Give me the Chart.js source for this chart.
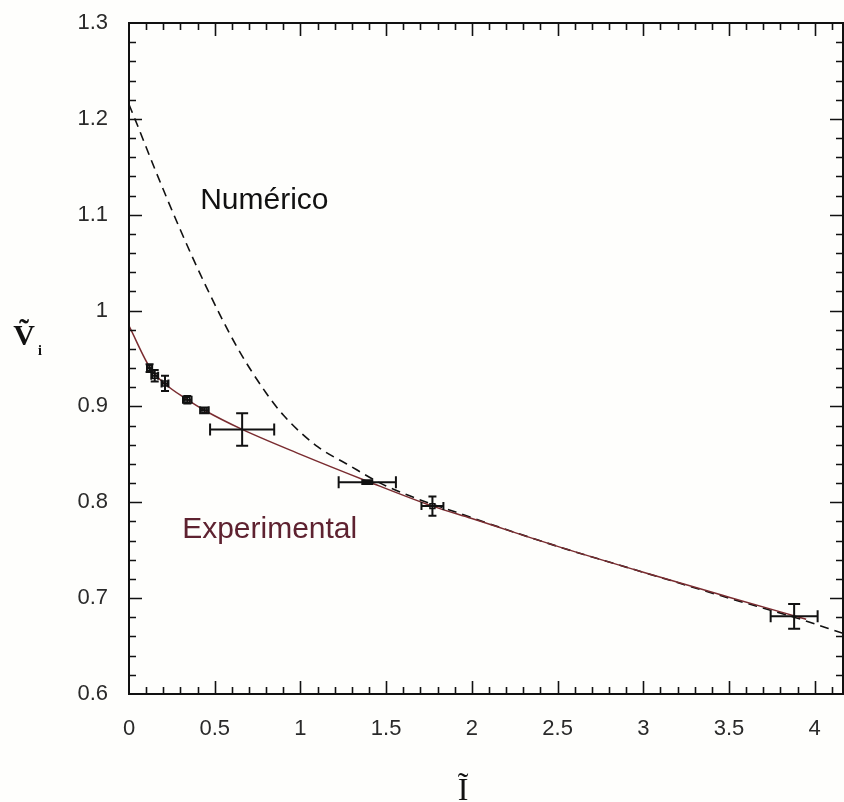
<!DOCTYPE html>
<html>
<head>
<meta charset="utf-8">
<script src="https://cdn.jsdelivr.net/npm/chart.js@4.4.1/dist/chart.umd.min.js"></script>
<style>
  html, body { margin: 0; padding: 0; background: #fefefc; }
  #wrap { width: 844px; height: 802px; }
</style>
</head>
<body>
<div id="wrap"><canvas id="myChart" width="844" height="802"></canvas></div>
<script>
// tick labels
var xTickLabels = [0, 0.5, 1, 1.5, 2, 2.5, 3, 3.5, 4];
var yTickLabels = [0.6, 0.7, 0.8, 0.9, 1, 1.1, 1.2, 1.3];

// Numerico (dashed curve)
var numX = [0, 0.05, 0.15, 0.3, 0.45, 0.63, 0.8, 0.9, 1.1, 1.27, 1.5, 2.0, 2.5, 3.0, 3.5, 3.9, 4.17];
var numY = [1.215, 1.193, 1.148, 1.084, 1.025, 0.962, 0.914, 0.891, 0.858, 0.840, 0.817, 0.784, 0.754, 0.727, 0.700, 0.679, 0.663];

// Experimental (fitted line)
var expX = [0, 0.13, 0.2, 0.34, 0.44, 0.66, 1.0, 1.39, 1.77, 2.0, 2.5, 3.0, 3.5, 3.95];
var expY = [0.984, 0.938, 0.925, 0.907, 0.896, 0.876, 0.850, 0.822, 0.796, 0.783, 0.754, 0.727, 0.701, 0.678];

// measured points with error bars
var ptX = [0.12, 0.15, 0.21, 0.34, 0.44, 0.66, 1.39, 1.77, 3.88];
var ptY = [0.940, 0.932, 0.924, 0.907, 0.896, 0.876, 0.821, 0.796, 0.681];
var errX = [0.015, 0.02, 0.02, 0.025, 0.025, 0.187, 0.167, 0.064, 0.137];
var errY = [0.004, 0.006, 0.008, 0.004, 0.003, 0.017, 0.002, 0.010, 0.013];

function pairs(xs, ys) {
    return xs.map(function(x, i) { return {x: x, y: ys[i]}; });
}

// inward ticks on all four sides + frame
var framePlugin = {
    id: 'frame',
    afterDraw: function(chart) {
        var ctx = chart.ctx, a = chart.chartArea;
        var xs = chart.scales.x, ys = chart.scales.y;
        ctx.save();
        ctx.strokeStyle = '#111';
        ctx.lineWidth = 2;
        ctx.strokeRect(a.left, a.top, a.right - a.left, a.bottom - a.top);
        ctx.lineWidth = 1.6;
        ctx.beginPath();
        for (var i = 1; i * 0.1 < xs.max; i++) {
            var px = Math.round(xs.getPixelForValue(i * 0.1)) + 0.5;
            var len = (i % 5 === 0) ? 13 : 7;
            ctx.moveTo(px, a.bottom); ctx.lineTo(px, a.bottom - len);
            ctx.moveTo(px, a.top); ctx.lineTo(px, a.top + len);
        }
        for (var j = 1; j < 35; j++) {
            var py = Math.round(ys.getPixelForValue(0.6 + j * 0.02)) + 0.5;
            var l2 = (j % 5 === 0) ? 13 : 7;
            ctx.moveTo(a.left, py); ctx.lineTo(a.left + l2, py);
            ctx.moveTo(a.right, py); ctx.lineTo(a.right - l2, py);
        }
        ctx.stroke();
        ctx.restore();
    }
};

var errorBarPlugin = {
    id: 'errbars',
    afterDatasetsDraw: function(chart) {
        var ctx = chart.ctx;
        var xs = chart.scales.x, ys = chart.scales.y;
        ctx.save();
        ctx.strokeStyle = '#111';
        ctx.lineWidth = 2;
        ctx.beginPath();
        ptX.forEach(function(x, i) {
            var cx = xs.getPixelForValue(x), cy = ys.getPixelForValue(ptY[i]);
            var x0 = xs.getPixelForValue(x - errX[i]), x1 = xs.getPixelForValue(x + errX[i]);
            var y0 = ys.getPixelForValue(ptY[i] - errY[i]), y1 = ys.getPixelForValue(ptY[i] + errY[i]);
            var cap = errX[i] > 0.1 ? 6 : 4;
            ctx.moveTo(x0, cy); ctx.lineTo(x1, cy);
            ctx.moveTo(x0, cy - cap); ctx.lineTo(x0, cy + cap);
            ctx.moveTo(x1, cy - cap); ctx.lineTo(x1, cy + cap);
            ctx.moveTo(cx, y0); ctx.lineTo(cx, y1);
            ctx.moveTo(cx - cap, y0); ctx.lineTo(cx + cap, y0);
            ctx.moveTo(cx - cap, y1); ctx.lineTo(cx + cap, y1);
        });
        ctx.stroke();
        ctx.restore();
    }
};

// curve names and axis titles
var labelPlugin = {
    id: 'labels',
    afterDraw: function(chart) {
        var ctx = chart.ctx;
        var xs = chart.scales.x, ys = chart.scales.y;
        ctx.save();
        ctx.textAlign = 'left';
        ctx.textBaseline = 'alphabetic';
        ctx.font = '30px "Liberation Sans", Arial, sans-serif';
        ctx.fillStyle = '#111';
        ctx.fillText('Numérico', xs.getPixelForValue(0.415), ys.getPixelForValue(1.106));
        ctx.fillStyle = '#5e2230';
        ctx.fillText('Experimental', xs.getPixelForValue(0.31), ys.getPixelForValue(0.7625));

        ctx.fillStyle = '#111';
        ctx.font = 'bold 30px "Liberation Serif", "Times New Roman", serif';
        ctx.textAlign = 'center';
        ctx.fillText('Ṽ', 24, 345);
        ctx.font = 'bold 14px "Liberation Serif", "Times New Roman", serif';
        ctx.fillText('i', 40, 355);
        ctx.font = '32px "Liberation Serif", "Times New Roman", serif';
        ctx.fillText('Ĩ', 463, 800);
        ctx.restore();
    }
};

var ctx = document.getElementById('myChart').getContext('2d');
var chart = new Chart(ctx, {
    type: 'scatter',
    data: {
        datasets: [{
            label: 'Numérico',
            data: pairs(numX, numY),
            showLine: true,
            borderColor: '#111',
            borderWidth: 1.6,
            borderDash: [9, 6],
            pointRadius: 0,
            cubicInterpolationMode: 'monotone',
            order: 2
        }, {
            label: 'Experimental',
            data: pairs(expX, expY),
            showLine: true,
            borderColor: '#7a2c30',
            borderWidth: 1.5,
            pointRadius: 0,
            cubicInterpolationMode: 'monotone',
            order: 1
        }, {
            label: 'pontos',
            data: pairs(ptX, ptY),
            showLine: false,
            pointStyle: 'rect',
            pointRadius: function(c) { return errX[c.dataIndex] > 0.1 ? 0 : 3.5; },
            borderColor: '#111',
            borderWidth: 1.5,
            backgroundColor: 'rgba(0,0,0,0)',
            order: 0
        }]
    },
    options: {
        responsive: false,
        animation: false,
        layout: { autoPadding: false, padding: { top: 23, right: 1, left: 0, bottom: 0 } },
        plugins: {
            legend: { display: false },
            tooltip: { enabled: false }
        },
        scales: {
            x: {
                type: 'linear',
                min: 0,
                max: 4.165,
                grid: { display: false },
                border: { display: false },
                afterBuildTicks: function(s) { s.ticks = xTickLabels.map(function(v) { return {value: v}; }); },
                afterFit: function(s) { s.height = 108; s.paddingLeft = 0; s.paddingRight = 0; },
                ticks: {
                    padding: 14,
                    color: '#2a2a2a',
                    font: { family: '"Liberation Sans", Arial, sans-serif', size: 22 },
                    callback: function(v) { return String(Math.round(v * 10) / 10); }
                }
            },
            y: {
                type: 'linear',
                min: 0.6,
                max: 1.3,
                grid: { display: false },
                border: { display: false },
                afterBuildTicks: function(s) { s.ticks = yTickLabels.map(function(v) { return {value: v}; }); },
                afterFit: function(s) { s.width = 129; s.paddingTop = 0; s.paddingBottom = 0; },
                ticks: {
                    padding: 13,
                    color: '#2a2a2a',
                    font: { family: '"Liberation Sans", Arial, sans-serif', size: 22 },
                    callback: function(v) { return String(Math.round(v * 10) / 10); }
                }
            }
        }
    },
    plugins: [framePlugin, errorBarPlugin, labelPlugin]
});
</script>
</body>
</html>
